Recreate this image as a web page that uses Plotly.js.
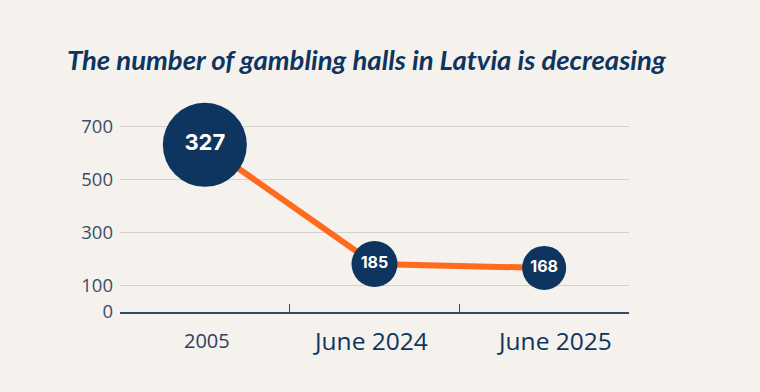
<!DOCTYPE html>
<html>
<head>
<meta charset="utf-8">
<script src="https://cdn.plot.ly/plotly-3.0.1.min.js"></script>
<style>
html,body{margin:0;padding:0;background:#f5f1ec;}
#chart{width:760px;height:392px;}
</style>
</head>
<body>
<div id="chart"></div>
<script>
// ---- data ----
const categories = ["2005", "June 2024", "June 2025"];
const plottedValues = [630, 181, 166];        // bubble positions as drawn on the y-axis
const bubbleLabels = ["327", "185", "168"];   // numbers printed inside the bubbles
const yTickValues = [0, 100, 300, 500, 700];
const yTickLabels = ["0", "100", "300", "500", "700"];
const chartTitle = "The number of gambling halls in Latvia is decreasing";

const navy = "#0d355f";
const orange = "#ff6a1c";
const xIdx = categories.map((c, i) => i);

const trace = {
  x: xIdx,
  y: plottedValues,
  text: bubbleLabels,
  type: "scatter",
  mode: "lines+markers+text",
  line: {color: orange, width: 6},
  marker: {color: navy, size: [84, 46, 44], line: {width: 0}, opacity: 1},
  textposition: "middle center",
  textfont: {family: "Inter, 'Open Sans', sans-serif", color: "#ffffff", size: [22, 16, 16], weight: 700},
  cliponaxis: false,
  hoverinfo: "skip"
};

const labelFonts = [
  {size: 20, color: "#2c4265", xshift: 2},
  {size: 24.5, color: navy, xshift: -4},
  {size: 24.5, color: navy, xshift: 10}
];

const annotations = categories.map((c, i) => ({
  x: i, y: 0, xref: "x", yref: "paper",
  text: c, showarrow: false,
  xanchor: "center", yanchor: "middle",
  yshift: -28, xshift: labelFonts[i].xshift,
  font: {family: "'Open Sans', sans-serif", size: labelFonts[i].size, color: labelFonts[i].color}
}));

const layout = {
  width: 760, height: 392,
  paper_bgcolor: "#f5f1ec",
  plot_bgcolor: "#f5f1ec",
  margin: {l: 120, r: 131, t: 113, b: 80},
  showlegend: false,
  title: {
    text: "<b><i>" + chartTitle + "</i></b>",
    font: {family: "Lato, 'Open Sans', sans-serif", size: 27.5, color: navy},
    x: 0.482, xanchor: "center", y: 0.845, yanchor: "middle"
  },
  xaxis: {
    range: [-0.5, 2.5],
    showgrid: false, zeroline: false,
    showline: true, linecolor: "#34496a", linewidth: 2,
    tickvals: [0.5, 1.5], ticktext: ["", ""],
    ticks: "inside", ticklen: 8, tickwidth: 1.5, tickcolor: "#34496a",
    showticklabels: false, fixedrange: true
  },
  yaxis: {
    range: [0, 750],
    tickvals: yTickValues, ticktext: yTickLabels,
    showgrid: true, gridcolor: "#d3d1d2", gridwidth: 1.3,
    zeroline: false, showline: false,
    ticks: "", ticklabelstandoff: 6,
    tickfont: {family: "'Open Sans', sans-serif", size: 18.5, color: "#3b4d6a"},
    fixedrange: true
  },
  annotations: annotations
};

Plotly.newPlot("chart", [trace], layout, {displayModeBar: false, staticPlot: true});
</script>
</body>
</html>
